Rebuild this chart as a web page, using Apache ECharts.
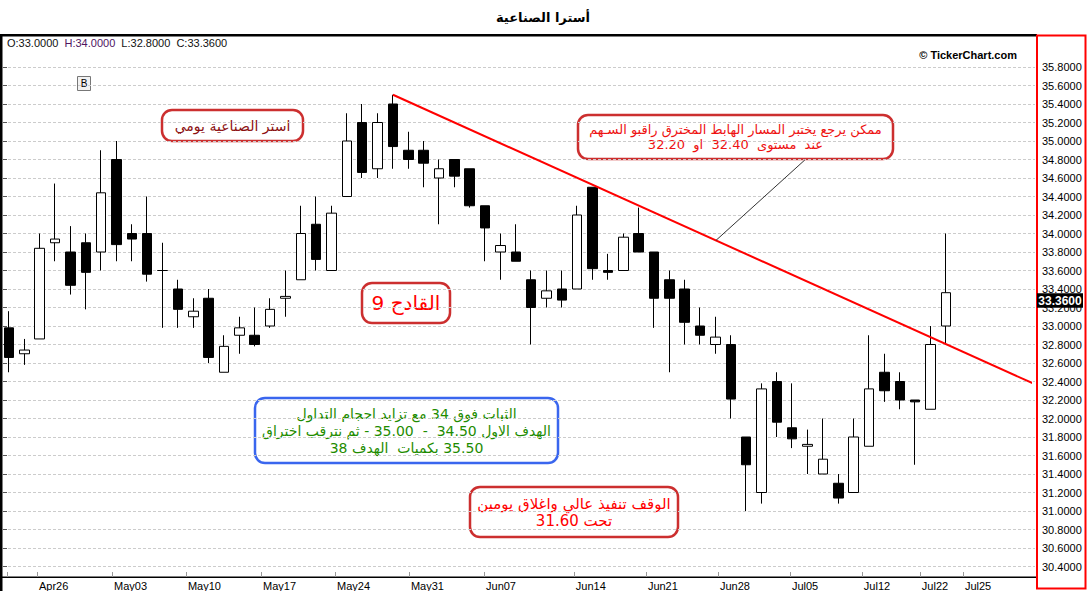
<!DOCTYPE html>
<html><head><meta charset="utf-8">
<script src="https://cdn.jsdelivr.net/npm/echarts@6/dist/echarts.min.js"></script>
<style>html,body{margin:0;padding:0;background:#fff}#c{width:1087px;height:591px}</style>
</head><body><div id="c"></div>
<script>
// ---- data ----
const categories = Array.from({length: 67}, (_, i) => 'd' + (i + 1));
const opens  = [32.98,32.70,32.86,33.90,33.80,33.90,33.80,34.80,34.00,34.00,
                33.60,33.40,33.10,33.30,32.50,32.90,32.90,33.00,33.30,33.50,
                34.10,33.60,34.40,35.20,34.70,35.40,34.90,34.90,34.60,34.80,
                34.70,34.30,33.80,33.80,33.50,33.30,33.40,33.40,34.50,33.60,
                33.60,34.00,33.80,33.50,33.40,33.00,32.80,32.80,31.80,31.20,
                32.40,31.90,31.70,31.40,31.30,31.20,31.70,32.50,32.40,32.20,
                32.10,33.00];
const highs  = [33.16,32.86,34.00,34.54,34.08,34.00,34.90,35.00,34.10,34.40,
                33.90,33.50,33.30,33.40,32.90,33.10,33.20,33.30,33.60,34.30,
                34.40,34.30,35.30,35.40,35.30,35.50,35.10,35.00,34.80,34.80,
                34.70,34.30,34.00,34.10,33.60,33.60,33.60,34.30,34.50,33.78,
                34.00,34.28,33.80,33.60,33.50,33.20,33.10,32.90,31.80,32.38,
                32.50,32.38,31.88,32.00,31.40,32.00,32.90,32.70,32.50,32.20,
                33.00,34.00];
const lows   = [32.50,32.58,32.86,33.70,33.34,33.18,33.60,33.70,33.70,33.48,
                32.98,32.98,32.98,32.60,32.50,32.70,32.78,32.98,33.10,33.50,
                33.60,33.60,34.40,34.60,34.60,34.70,34.70,34.50,34.10,34.50,
                34.28,33.70,33.50,33.70,32.80,33.20,33.20,33.40,33.50,33.50,
                33.60,33.80,32.98,32.50,32.80,32.80,32.70,32.00,31.00,31.08,
                31.80,31.68,31.40,31.40,31.08,31.20,31.70,32.18,32.10,31.50,
                32.10,32.80];
const closes = [32.66,32.74,33.84,33.94,33.44,33.58,34.44,33.88,33.94,33.56,
                33.60,33.18,33.16,32.66,32.78,32.98,32.80,33.18,33.32,34.00,
                33.72,34.22,35.00,34.66,35.20,34.94,34.80,34.76,34.70,34.62,
                34.30,34.06,33.87,33.70,33.20,33.38,33.28,34.20,33.62,33.58,
                33.96,33.80,33.30,33.30,33.04,32.90,32.88,32.21,31.50,32.32,
                31.96,31.78,31.72,31.56,31.14,31.80,32.32,32.30,32.20,32.18,
                32.80,33.36];
const xTickPositions = [-0.13,1.82,6.71,11.52,16.41,21.23,26.04,30.93,36.78,41.47,46.16,50.85,55.53,59.31,62.11];
const xTickLabels    = ['','Apr26','May03','May10','May17','May24','May31','Jun07','Jun14','Jun21','Jun28','Jul05','Jul12','Jul22','Jul25'];
const yMin = 30.4, yMax = 35.8, yStep = 0.2;
const trendLine   = [[25, 35.50], [66.8, 32.37]];
const calloutLine = [[46.03, 33.925], [51.82, 34.795]];
const titleText = 'أسترا الصناعية';
const ohlc = {o: '33.0000', h: '34.0000', l: '32.8000', c: '33.3600'};

// ---- chart ----
const AR = '"DejaVu Sans", sans-serif';
const LAT = '"Liberation Sans", Arial, sans-serif';
const RLM = '\u200F';
const chart = echarts.init(document.getElementById('c'), null, {renderer: 'svg'});
const candleData = opens.map((o, i) => [o, closes[i], lows[i], highs[i]]);

function box(cx, cy, w, h, stroke, text, color, font, lh) {
  return {
    type: 'group', z: 100,
    children: [
      {type: 'rect', shape: {x: cx - w / 2, y: cy - h / 2, width: w, height: h, r: 10},
       style: {fill: '#fff', stroke: stroke, lineWidth: 2.5}},
      {type: 'text', style: {x: cx, y: cy, text: text, fill: color, font: font,
        textAlign: 'center', textVerticalAlign: 'middle', lineHeight: lh}}
    ]
  };
}

const option = {
  animation: false,
  backgroundColor: '#fff',
  grid: [
    {left: 1.3, width: 1029, top: 67, height: 499.5},
    {left: 3, width: 1032, top: 67, height: 499.5}
  ],
  xAxis: [
    {gridIndex: 0, type: 'category', data: categories, boundaryGap: true, show: false},
    {gridIndex: 0, type: 'value', min: -0.5, max: 66.5, position: 'bottom', offset: 10.5,
     axisLine: {show: false},
     axisTick: {show: true, inside: true, length: 5, customValues: xTickPositions,
                lineStyle: {color: '#999', width: 1}},
     axisLabel: {show: true, customValues: xTickPositions.slice(1), align: 'left', margin: 3,
                 padding: [0, 0, 0, 2], color: '#000', fontSize: 11, fontFamily: LAT,
                 formatter: v => {
                   const k = xTickPositions.findIndex(p => Math.abs(p - v) < 1e-6);
                   return k >= 0 ? xTickLabels[k] : '';
                 }},
     splitLine: {show: false}},
    {gridIndex: 1, type: 'value', min: 0, max: 1, show: false}
  ],
  yAxis: [
    {gridIndex: 0, type: 'value', min: yMin, max: yMax, show: false},
    {gridIndex: 1, type: 'value', min: yMin, max: yMax, interval: yStep, position: 'right', offset: 4,
     axisLine: {show: false},
     axisTick: {show: true, length: 4, lineStyle: {color: '#555'}},
     axisLabel: {margin: 3, color: '#000', fontSize: 11, fontFamily: LAT, formatter: v => v.toFixed(4)},
     splitLine: {show: true, lineStyle: {color: '#cccccc', width: 1, type: [3, 2]}}}
  ],
  series: [
    {type: 'candlestick', xAxisIndex: 0, yAxisIndex: 0, data: candleData, barWidth: 10,
     itemStyle: {color: '#fff', color0: '#000', borderColor: '#000', borderColor0: '#000',
                 borderColorDoji: '#000', borderWidth: 1}, silent: true},
    {type: 'line', xAxisIndex: 1, yAxisIndex: 0, data: trendLine, symbol: 'none', clip: false,
     lineStyle: {color: '#ff0000', width: 2}, silent: true, z: 5},
    {type: 'line', xAxisIndex: 1, yAxisIndex: 0, data: calloutLine, symbol: 'none', clip: false,
     lineStyle: {color: '#333', width: 1}, silent: true, z: 5}
  ],
  graphic: {elements: [
    {type: 'text', style: {x: 543, y: 17, text: titleText, font: 'bold 13px ' + AR, fill: '#000',
      textAlign: 'center', textVerticalAlign: 'middle'}},
    {type: 'rect', shape: {x: 0, y: 34, width: 1037, height: 2.5}, style: {fill: '#000'}},
    {type: 'rect', shape: {x: 0, y: 34, width: 2.5, height: 557}, style: {fill: '#000'}},
    {type: 'rect', shape: {x: 0, y: 576.5, width: 1037, height: 1.5}, style: {fill: '#000'}},
    {type: 'rect', shape: {x: 1037, y: 35.5, width: 48.5, height: 553}, style: {fill: 'none', stroke: '#ff0000', lineWidth: 2}},
    {type: 'text', style: {x: 7, y: 43, text: '{o|O:' + ohlc.o + '}  {h|H:' + ohlc.h + '}  {l|L:' + ohlc.l + '}  {c|C:' + ohlc.c + '}',
      textVerticalAlign: 'middle', font: '11px ' + LAT,
      rich: {o: {fill: '#111', font: '11px ' + LAT}, h: {fill: '#50145f', font: '11px ' + LAT},
             l: {fill: '#111', font: '11px ' + LAT}, c: {fill: '#111', font: '11px ' + LAT}}}},
    {type: 'rect', shape: {x: 77.5, y: 76.5, width: 13, height: 14}, style: {fill: '#f2f2f2', stroke: '#777', lineWidth: 1}},
    {type: 'text', style: {x: 84, y: 83.5, text: 'B', font: '10px ' + LAT, fill: '#000', textAlign: 'center', textVerticalAlign: 'middle'}},
    {type: 'text', style: {x: 1017, y: 55, text: '© TickerChart.com', font: 'bold 11px ' + LAT, fill: '#000',
      textAlign: 'right', textVerticalAlign: 'middle'}},
    box(232.5, 125.5, 141, 31, '#cc2f2f', 'استر الصناعية يومي', '#8c1010', '14px ' + AR, 16),
    box(406, 303, 88, 40, '#cc2f2f', 'القادح 9', '#ff0000', '20px ' + AR, 22),
    box(735.5, 137, 315, 44, '#cc2f2f', 'ممكن يرجع يختبر المسار الهابط المخترق راقبو السـهم\n' + RLM + 'عند  مستوى  32.40  او  32.20', '#ee1111', '13px ' + AR, 15),
    box(406.5, 430.5, 303, 65, '#3a66ee', 'الثبات فوق 34 مع تزايد احجام التداول\n' + RLM + 'الهدف الاول 34.50  -  35.00 - ثم نترقب اختراق\n' + RLM + '35.50 بكميات  الهدف 38', '#1e8c00', '14px ' + AR, 17),
    box(574, 512, 208, 50, '#cc2f2f', 'الوقف تنفيذ عالي واغلاق يومين\n' + RLM + 'تحت 31.60', '#ff0000', '15px ' + AR, 17)
  ]}
};
chart.setOption(option);

// last price tag on the price axis
const lastClose = closes[closes.length - 1];
const py = chart.convertToPixel({yAxisIndex: 0}, lastClose);
chart.setOption({graphic: {elements: option.graphic.elements.concat([
  {type: 'rect', z: 200, shape: {x: 1037, y: py + 0.5, width: 46, height: 14.5}, style: {fill: '#000'}},
  {type: 'text', z: 201, style: {x: 1060, y: py + 8, text: lastClose.toFixed(4), font: 'bold 12px ' + LAT,
    fill: '#fff', textAlign: 'center', textVerticalAlign: 'middle'}}
])}});
</script></body></html>
